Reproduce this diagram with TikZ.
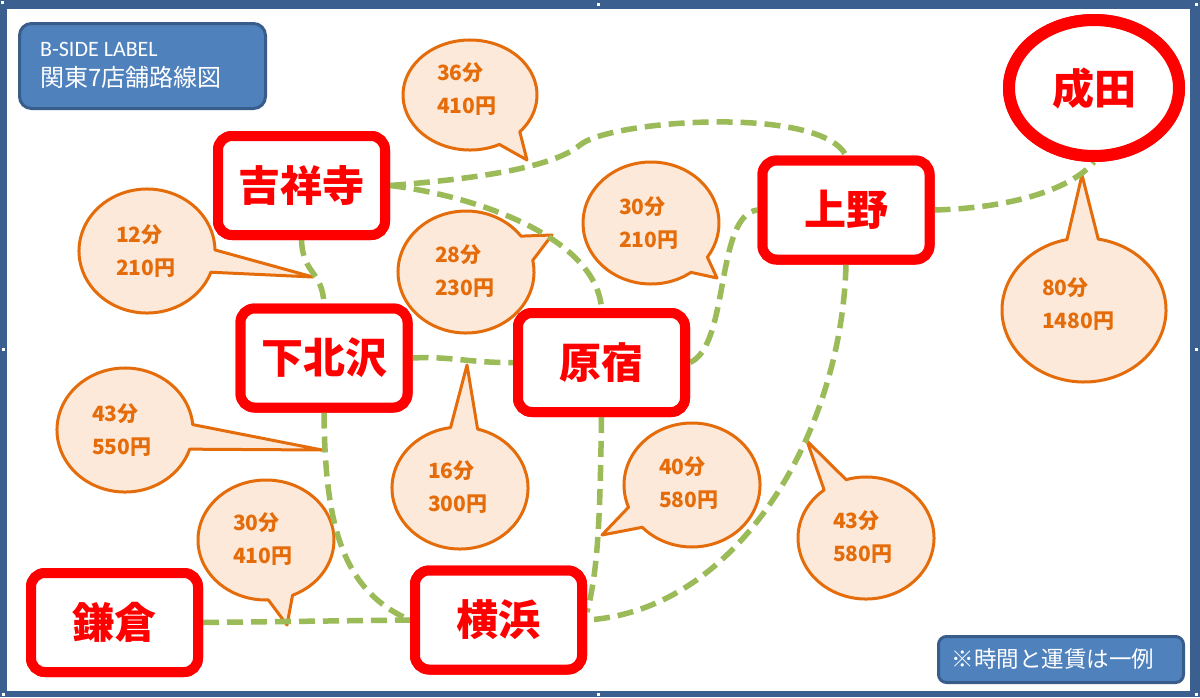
\documentclass[tikz,border=0pt]{standalone}
\usepackage{fontspec}
\setmainfont{Noto Sans CJK JP}
\newfontfamily\latinlabel{Carlito}
\usetikzlibrary{shapes.geometric}
\definecolor{framecol}{HTML}{3B5F8E}
\definecolor{boxblue}{HTML}{4F81BD}
\definecolor{boxedge}{HTML}{385D8A}
\definecolor{stred}{HTML}{FF0000}
\definecolor{lgreen}{HTML}{9BBB59}
\definecolor{borange}{HTML}{E46C0A}
\definecolor{bfill}{HTML}{FDE9D9}
\tikzset{
 station/.style={draw=stred, line width=10pt, fill=white, rounded corners=14pt,
   minimum width=167pt, minimum height=99pt, inner sep=0pt, text=stred,
   font=\fontsize{42}{50}\selectfont\bfseries},
 route/.style={draw=lgreen, line width=5.5pt, dash pattern=on 16pt off 8pt},
 bub/.style={draw=borange, fill=bfill, line width=3pt, line join=round},
 bubtext/.style={anchor=west, align=left, text=borange, inner sep=0pt,
   font=\fontsize{21}{33}\selectfont\bfseries},
 infobox/.style={draw=boxedge, fill=boxblue, line width=3pt, inner sep=0pt},
 infotext/.style={text=white, inner sep=0pt},
 handle/.style={fill=white},
}
% cx cy rx ry alo ahi tipx tipy
\newcommand\mybubble[8]{%
  \filldraw[bub] (#1,#2) ++(#6:#3 and #4)
    arc[start angle=#6, end angle={#5+360}, x radius=#3, y radius=#4]
    -- (#7,#8) -- cycle;}
\begin{document}
\begin{tikzpicture}[x=1pt,y=-1pt]
\useasboundingbox (0,0) rectangle (1200,697);
% frame
\fill[framecol] (0,0) rectangle (1200,697);
\fill[white] (7,9) rectangle (1190,691);
\foreach \hx/\hy in {2/2,598/4,1196/4,3/349,1196/349,3/694,598/694,1196/694}
  \fill[handle] (\hx-1.5,\hy-1.5) rectangle (\hx+1.5,\hy+1.5);

% title box
\node[infobox, rounded corners=12pt, minimum width=246pt, minimum height=85pt] (title) at (142.5,66) {};
\node[infotext, anchor=west, font=\latinlabel\fontsize{22}{26}\selectfont] (tline1) at (40,49) {B-SIDE LABEL};
\node[infotext, anchor=west, font=\fontsize{24}{30}\selectfont] (tline2) at (40,77) {関東7店舗路線図};

% note box
\node[infobox, rounded corners=8pt, minimum width=245pt, minimum height=46pt] (note) at (1061,659.5) {};
\node[infotext, font=\fontsize{22.5}{26}\selectfont] (notetext) at (1053,659) {※時間と運賃は一例};

% speech bubbles
\mybubble{470}{95}{67}{55}{42}{64}{527}{160}
\node[bubtext] (b1) at (437,89) {36分\\410円};
\mybubble{147}{251}{68}{62}{-1}{20}{313}{277}
\node[bubtext] (b2) at (116,251.5) {12分\\210円};
\mybubble{466}{272}{68}{61}{-36}{-11}{552}{235}
\node[bubtext] (b3) at (435,271.5) {28分\\230円};
\mybubble{651}{223}{68}{61}{34}{54}{717}{278}
\node[bubtext] (b4) at (619,223) {30分\\210円};
\mybubble{1084}{310}{82}{72}{-102}{-80}{1082}{175}
\node[bubtext] (b5) at (1042,304.5) {80分\\1480円};
\mybubble{125}{430}{68}{62}{-5}{18}{322}{450}
\node[bubtext] (b6) at (92,430.5) {43分\\550円};
\mybubble{266}{540}{68}{60}{67}{88}{287}{625}
\node[bubtext] (b7) at (233,539) {30分\\410円};
\mybubble{460}{488}{68}{61}{-98}{-75}{467}{365}
\node[bubtext] (b8) at (428,487) {16分\\300円};
\mybubble{692}{485}{68}{62}{137}{159}{602}{535}
\node[bubtext] (b9) at (659,483.5) {40分\\580円};
\mybubble{866}{538}{68}{61}{-128}{-107}{807}{441}
\node[bubtext] (b10) at (833,537.5) {43分\\580円};

% stations
\node[station] (kichi) at (301.5,185.5) {吉祥寺};
\node[station] (shimo) at (324,358) {下北沢};
\node[station] (hara) at (601.5,362.5) {原宿};
\node[station] (ueno) at (846,210) {上野};
\node[station] (kama) at (114.5,622.5) {鎌倉};
\node[station] (yoko) at (498.5,620) {横浜};
\node[draw=stred, line width=12pt, fill=white, ellipse, minimum width=170pt,
  minimum height=136pt, inner sep=0pt, text=stred,
  font=\fontsize{42}{50}\selectfont\bfseries] (narita) at (1094,88) {成田};

% routes
\draw[route] (kichi.east) .. controls (460,180) and (550,170) .. (580,145)
  .. controls (610,120) and (820,105) .. (ueno.north);
\draw[route] (kichi.east) .. controls (470,195) and (595,235) .. (hara.north);
\draw[route] (kichi.south) .. controls (303,275) and (322,270) .. (shimo.north);
\draw[route] (shimo.east) .. controls (450,356) and (470,363) .. (hara.west);
\draw[route] (hara.east) .. controls (730,345) and (715,215) .. (ueno.west);
\draw[route] (ueno.east) .. controls (1010,208) and (1070,190) .. (narita.south);
\draw[route] (ueno.south) .. controls (842,430) and (740,610) .. (yoko.east);
\draw[route] (hara.south) .. controls (600,520) and (598,570) .. ([yshift=8pt]yoko.east);
\draw[route] (shimo.south) .. controls (325,520) and (340,590) .. (yoko.west);
\draw[route] (kama.east) -- (yoko.west);

% redraw stations on top of route ends
\node[station] at (kichi) {吉祥寺};
\node[station] at (shimo) {下北沢};
\node[station] at (hara) {原宿};
\node[station] at (ueno) {上野};
\node[station] at (kama) {鎌倉};
\node[station] at (yoko) {横浜};
\node[draw=stred, line width=12pt, fill=white, ellipse, minimum width=170pt,
  minimum height=136pt, inner sep=0pt, text=stred,
  font=\fontsize{42}{50}\selectfont\bfseries] at (narita) {成田};
\end{tikzpicture}
\end{document}
